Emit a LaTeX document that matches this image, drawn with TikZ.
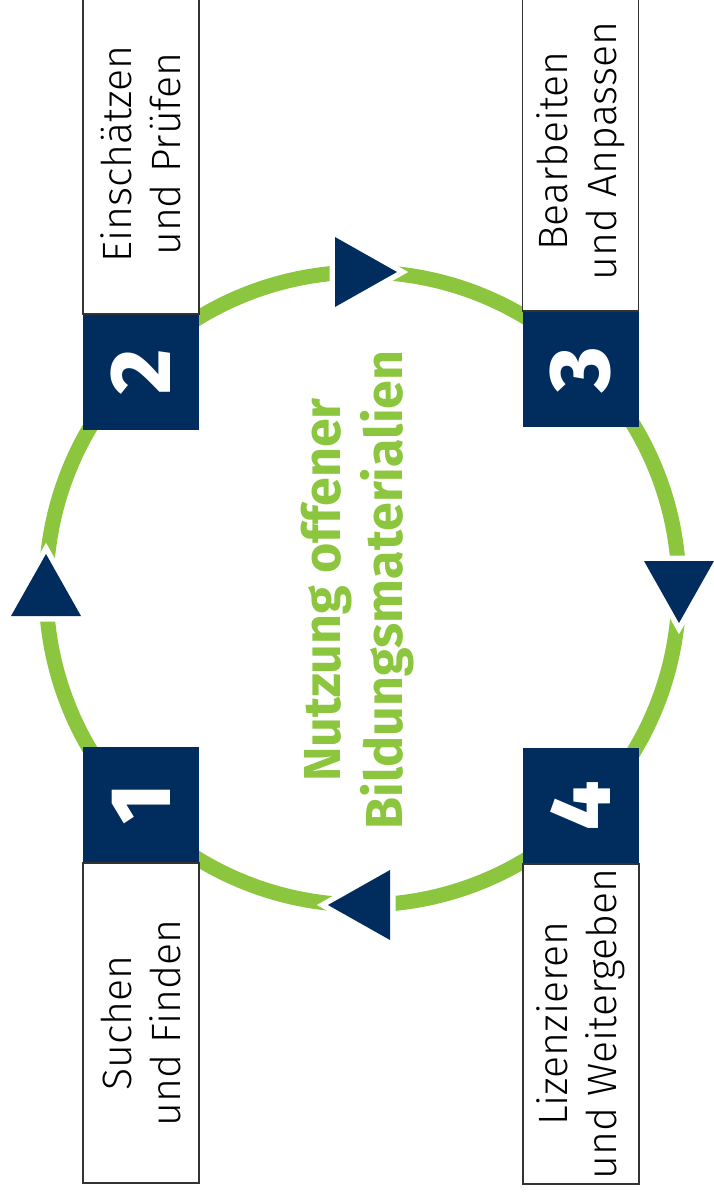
\documentclass[tikz,border=0pt]{standalone}
\usepackage{fontspec}
\setmainfont{Fira Sans}
\newfontfamily\lightfont{Fira Sans Light}
\newfontfamily\heavyfont{Fira Sans ExtraBold}
\usetikzlibrary{positioning}

\definecolor{oergreen}{HTML}{8CC63F}
\definecolor{oernavy}{HTML}{002D5E}
\definecolor{boxgray}{HTML}{333333}

\tikzset{
  stepnum/.style={fill=oernavy, text=white, rotate=90, minimum width=115pt,
    minimum height=116pt, inner sep=0pt, font=\heavyfont\fontsize{86}{86}\selectfont},
  steplabel/.style={draw=boxgray, line width=1.5pt, fill=white, rotate=90,
    minimum width=320pt, minimum height=116pt, inner sep=0pt, align=center,
    font=\lightfont\fontsize{41}{49}\selectfont},
  turnmark/.style={fill=oernavy, preaction={draw=white, line width=11pt, miter limit=10}}
}

\begin{document}
\begin{tikzpicture}[x=1pt, y=-1pt]
  \useasboundingbox (0,0) rectangle (713,1192);
  \coordinate (c) at (362.5,588.5);

  % Kreislauf
  \draw[oergreen, line width=15pt] (c) circle (316.5pt);

  % Pfeilspitzen
  \foreach \ang in {0,-90,-180,-270}
    \path[turnmark, rotate around={\ang:(c)}]
      (c) ++(34.5,-316.5) -- ++(-62,-35) -- ++(0,70) -- cycle;

  % Schritte
  \node[stepnum] (s1) at (141,804.5) {1};
  \node[stepnum] (s2) at (141,372.5) {2};
  \node[stepnum] (s3) at (580.5,369.5) {3};
  \node[stepnum] (s4) at (581,805.5) {4};

  \node[steplabel, anchor=east] (l1) at (s1.west) {Suchen\\und Finden};
  \node[steplabel, anchor=west] (l2) at (s2.east) {Einschätzen\\und Prüfen};
  \node[steplabel, anchor=west] (l3) at (s3.east) {Bearbeiten\\und Anpassen};
  \node[steplabel, anchor=east] (l4) at (s4.west) {Lizenzieren\\und Weitergeben};

  % Mitte
  \node[rotate=90, align=center, text=oergreen,
    font=\bfseries\fontsize{52}{62}\selectfont] (title) at (358,590)
    {Nutzung offener\\Bildungsmaterialien};
\end{tikzpicture}
\end{document}
